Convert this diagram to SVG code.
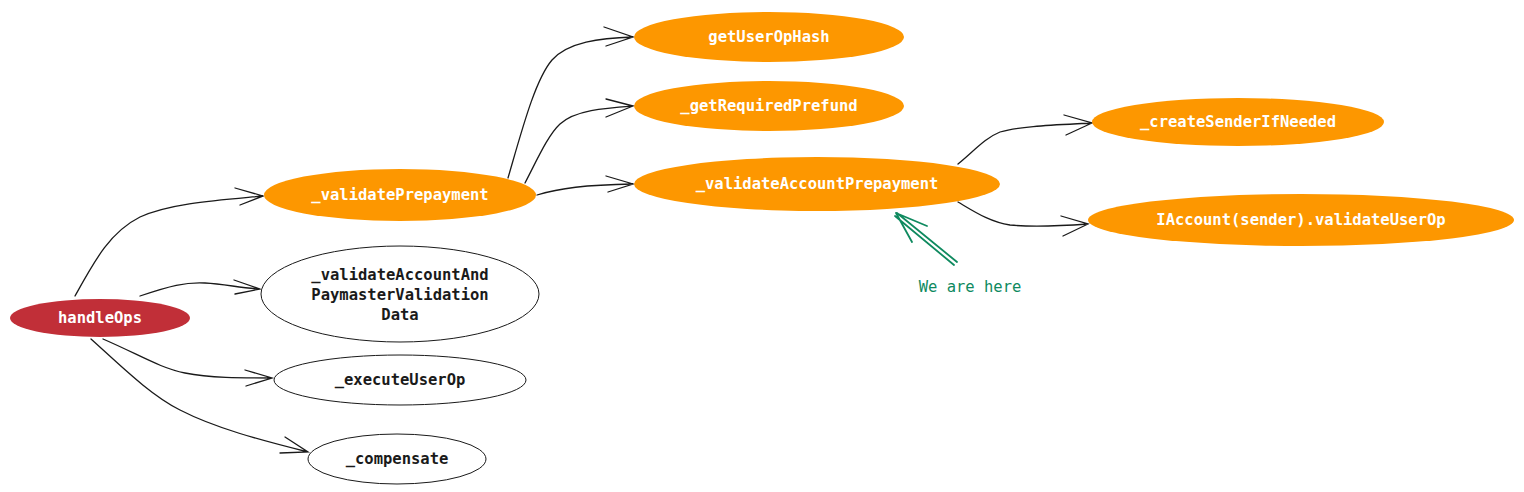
<svg xmlns="http://www.w3.org/2000/svg" width="1524" height="492" viewBox="0 0 1524 492">
<style>
text{font-family:"DejaVu Sans Mono","Liberation Mono",monospace;font-size:15.5px;text-anchor:middle;dominant-baseline:central}
.w{fill:#ffffff;font-weight:bold}
.b{fill:#1a1a1a;font-weight:bold}
.or{fill:#fd9700;stroke:none}
.rd{fill:#c12f38;stroke:none}
.wh{fill:#ffffff;stroke:#1a1a1a;stroke-width:1}
.c{fill:none;stroke:#1a1a1a;stroke-width:1.3;stroke-linecap:round}
.g{fill:none;stroke:#0f8a5f;stroke-width:1.8;stroke-linecap:round}
</style>
<rect width="1524" height="492" fill="#ffffff"/>
<g id="connectors">
<path class="c" d="M75,296 C95,260 110,232 140,217 C170,203 220,200 263,196 M235,188 L263,196 L240,205"/>
<path class="c" d="M140,296 C170,286 185,282 205,283 C225,284 240,288 260,289 M234,280 L260,289 L235,294"/>
<path class="c" d="M103,339 C140,355 160,368 185,373 C210,378 240,378 272,378 M245,370 L272,378 L246,386"/>
<path class="c" d="M91,339 C120,365 150,395 180,410 C215,428 260,440 308,452 M285,437 L308,452 L280,453"/>
<path class="c" d="M508,178 C522,130 535,80 552,60 C568,42 600,38 633,37 M604,27 L633,37 L606,46"/>
<path class="c" d="M525,183 C537,160 548,135 560,124 C575,110 605,108 633,106 M606,99 L633,106 L606,117"/>
<path class="c" d="M537,195 C560,188 585,185 633,184 M606,176 L633,184 L608,192"/>
<path class="c" d="M958,164 C975,150 985,138 1000,132 C1020,126 1055,125 1092,123 M1064,115 L1092,123 L1066,135"/>
<path class="c" d="M958,202 C975,212 990,222 1010,225 C1030,227 1060,226 1088,224 M1061,216 L1088,224 L1063,236"/>
</g>
<g id="node-handleOps"><ellipse class="rd" cx="100" cy="318" rx="90" ry="19"/><text class="w" x="100" y="318">handleOps</text></g>
<g id="node-validatePrepayment"><ellipse class="or" cx="400" cy="195" rx="136" ry="26"/><text class="w" x="400" y="195">_validatePrepayment</text></g>
<g id="node-validateAccountAndPaymaster"><ellipse class="wh" cx="400" cy="294" rx="139" ry="48"/><text class="b" x="400" y="275">_validateAccountAnd</text><text class="b" x="400" y="295">PaymasterValidation</text><text class="b" x="400" y="315">Data</text></g>
<g id="node-executeUserOp"><ellipse class="wh" cx="400" cy="380" rx="126" ry="25"/><text class="b" x="400" y="380">_executeUserOp</text></g>
<g id="node-compensate"><ellipse class="wh" cx="397" cy="459" rx="89" ry="25"/><text class="b" x="397" y="459">_compensate</text></g>
<g id="node-getUserOpHash"><ellipse class="or" cx="769" cy="37" rx="135" ry="25"/><text class="w" x="769" y="37">getUserOpHash</text></g>
<g id="node-getRequiredPrefund"><ellipse class="or" cx="769" cy="106" rx="135" ry="25"/><text class="w" x="769" y="106">_getRequiredPrefund</text></g>
<g id="node-validateAccountPrepayment"><ellipse class="or" cx="817" cy="184" rx="183" ry="27"/><text class="w" x="817" y="184">_validateAccountPrepayment</text></g>
<g id="node-createSenderIfNeeded"><ellipse class="or" cx="1238" cy="122" rx="146" ry="24"/><text class="w" x="1238" y="122">_createSenderIfNeeded</text></g>
<g id="node-validateUserOp"><ellipse class="or" cx="1301" cy="220" rx="213" ry="26"/><text class="w" x="1301" y="220">IAccount(sender).validateUserOp</text></g>
<g id="annotation">
<path class="g" d="M957,262 L897,213 M954,265 L895,216 M896,213 L927,226 M896,213 L912,242"/>
<text x="970" y="287" fill="#0f8a5f">We are here</text>
</g>
</svg>
